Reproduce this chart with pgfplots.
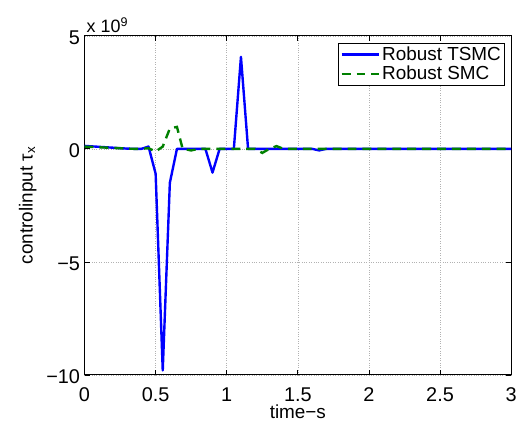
\documentclass[border=0pt]{standalone}
\usepackage{fontspec}
\setmainfont{Liberation Sans}
\usepackage{pgfplots}
\pgfplotsset{compat=1.18}
\definecolor{mblue}{rgb}{0,0,1}
\definecolor{mgreen}{rgb}{0,0.5,0}
\begin{document}
\begin{tikzpicture}[x=1pt,y=1pt]
\begin{axis}[
  scale only axis,
  width=429pt, height=341pt,
  xmin=0, xmax=3, ymin=-10, ymax=5,
  xtick={0,0.5,1,1.5,2,2.5,3},
  xticklabels={0,0.5,1,1.5,2,2.5,3},
  ytick={-10,-5,0,5},
  yticklabels={−10,−5,0,5},
  tick label style={font=\fontsize{20}{20}\selectfont},
  label style={font=\fontsize{19}{19}\selectfont},
  xlabel={time−s},
  ylabel={controlinput τ\textsubscript{x}},
  xlabel style={yshift=3pt},
  ylabel style={yshift=3pt},
  xticklabel style={yshift=-9pt},
  yticklabel style={xshift=-1pt, yshift=-2pt},
  grid=major,
  grid style={dotted, gray!60, line width=0.5pt},
  tick align=inside,
  xtick pos=both, ytick pos=both,
  major tick length=5pt,
  axis line style={black, line width=0.9pt},
  every tick/.style={black, line width=0.7pt},
  legend style={at={(rel axis cs:0.986,0.98)}, anchor=north east,
    font=\fontsize{19}{21}\selectfont, draw=black, line width=0.8pt,
    inner xsep=2pt, inner ysep=2pt, row sep=0pt},
  legend cell align=left,
  legend image post style={xscale=2.2},
]
\addplot[mblue, line width=2.4pt, line join=round] coordinates {
(0,0.13) (0.05,0.11) (0.1,0.09) (0.15,0.07) (0.2,0.05) (0.25,0.03) (0.3,0.01)
(0.35,0) (0.4,0) (0.45,0.1) (0.5,-1.1) (0.55,-9.8) (0.6,-1.5) (0.65,0)
(0.7,0) (0.75,0) (0.8,0) (0.85,0) (0.9,-1.05) (0.95,0) (1.0,0) (1.05,0)
(1.1,4.07) (1.15,0) (1.2,0) (1.3,0) (1.4,0) (1.5,0) (1.6,0) (1.65,-0.07)
(1.7,0) (2,0) (2.5,0) (3,0)
};
\addlegendentry{Robust TSMC}
\addplot[mgreen, line width=2.4pt, dash pattern=on 9pt off 6pt] coordinates {
(0,0.1) (0.1,0.07) (0.2,0.04) (0.3,0.01) (0.35,0) (0.4,0) (0.45,0.03)
(0.5,-0.12) (0.55,0.1) (0.6,0.9) (0.65,0.97) (0.69,0) (0.75,-0.07) (0.8,0)
(0.9,0) (1.0,0) (1.1,0) (1.2,0) (1.25,-0.18) (1.3,0) (1.35,0.12) (1.4,0)
(1.5,0) (2,0) (2.5,0) (3,0)
};
\addlegendentry{Robust SMC}
\end{axis}
\node[anchor=south west, font=\fontsize{18}{18}\selectfont, inner sep=0pt]
  at (current axis.north west) [xshift=2pt, yshift=3pt] {x 10\textsuperscript{9}};
\useasboundingbox (current axis.south west) ++(-85pt,-49pt) rectangle ++(520pt,426pt);
\end{tikzpicture}
\end{document}
